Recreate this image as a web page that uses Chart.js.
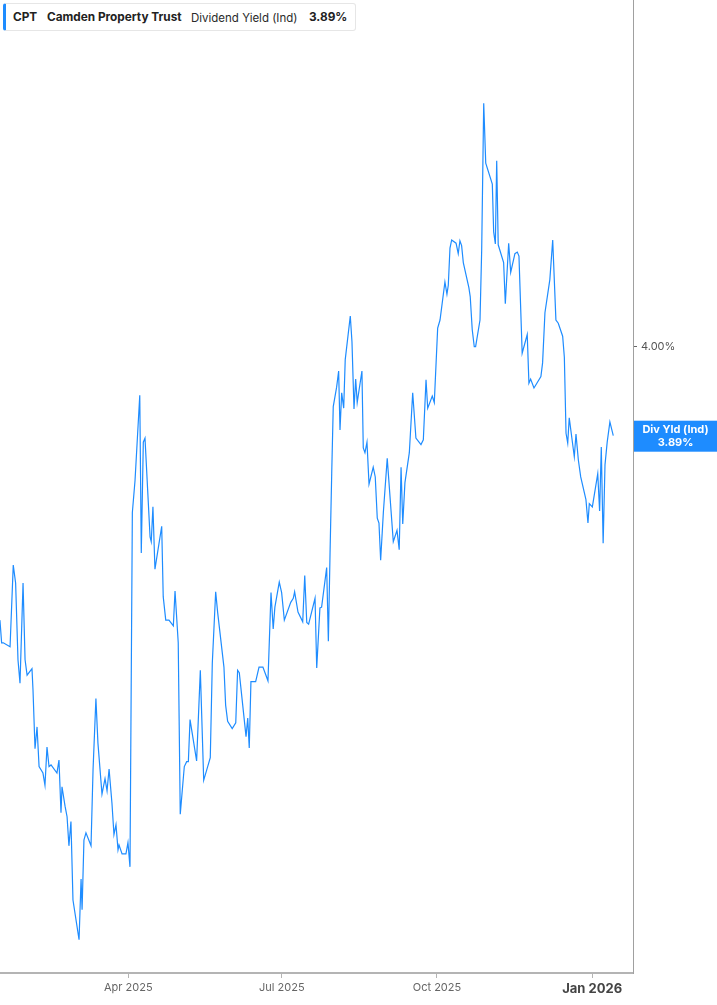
<!DOCTYPE html>
<html>
<head>
<meta charset="utf-8">
<script src="https://cdn.jsdelivr.net/npm/chart.js@4.4.1/dist/chart.umd.min.js"></script>
<style>
    html, body { margin: 0; padding: 0; background: #fff; }
    #wrap { position: relative; width: 717px; height: 1005px; }
    #legend {
        position: absolute; left: 3px; top: 3px; width: 353px; height: 28px;
        box-sizing: border-box; border: 1px solid #e6e6e6; border-left: 3px solid #1e8cff;
        border-radius: 3px; background: #fff; font-family: Inter, "Noto Sans", sans-serif;
        font-size: 11.8px; color: #222;
    }
    #legend span { position: absolute; top: 6px; white-space: nowrap; }
    .b { font-weight: 700; }
    .m { font-weight: 400; color: #2a2a2a; font-size: 11.5px; top: 6.5px !important; }
</style>
</head>
<body>
<div id="wrap">
    <canvas id="chart" width="717" height="1005"></canvas>
    <div id="legend">
        <span class="b" style="left:7px">CPT</span>
        <span class="b" style="left:41px">Camden Property Trust</span>
        <span class="m" style="left:185px">Dividend Yield (Ind)</span>
        <span class="b" id="legend-value" style="left:303px"></span>
    </div>
</div>
<script>
// days since 2025-01-01 for each vertex of the line
const days = [
    13.9, 14.9, 15.9, 19.9, 21.8, 23.2, 24.6, 25.8, 27.6, 28.8, 30.0, 32.9, 33.5, 34.7, 35.9, 37.1,
    39.4, 40.6, 41.8, 43.0, 44.2, 47.7, 48.9, 50.1, 50.7, 52.5, 53.7, 54.8, 56.0, 57.2, 60.8, 62.0,
    62.6, 63.7, 64.9, 67.9, 69.1, 70.8, 72.0, 74.4, 76.2, 77.4, 78.6, 80.3, 81.5, 82.7, 83.9, 84.5,
    86.3, 88.6, 89.8, 91.0, 92.4, 94.0, 96.8, 97.7, 98.9, 99.9, 102.9, 103.6, 104.6, 105.8, 109.8, 110.7,
    112.2, 114.1, 116.7, 117.7, 119.6, 120.8, 123.2, 124.6, 125.6, 126.6, 130.5, 132.7, 134.7, 138.6, 139.8, 141.8,
    143.0, 146.7, 147.7, 148.9, 151.6, 153.7, 154.8, 155.8, 159.8, 160.8, 161.7, 162.7, 165.5, 167.5, 169.8, 172.8,
    174.6, 175.9, 176.9, 179.5, 180.9, 182.5, 186.3, 187.8, 188.6, 190.6, 193.4, 194.6, 195.8, 196.9, 200.7, 201.7,
    203.6, 204.6, 207.6, 208.6, 209.6, 210.6, 211.5, 213.5, 214.7, 215.5, 216.5, 217.7, 218.6, 221.6, 222.6, 223.8,
    224.8, 225.7, 228.5, 229.3, 230.3, 231.5, 232.7, 235.2, 236.4, 237.6, 238.6, 239.6, 241.2, 243.5, 247.1, 249.3,
    250.6, 251.7, 252.7, 254.0, 256.6, 258.6, 260.5, 263.5, 264.9, 266.5, 267.5, 270.2, 271.4, 273.4, 274.8, 277.7,
    278.9, 279.7, 280.7, 281.7, 284.3, 285.6, 286.6, 287.6, 288.6, 291.9, 292.7, 293.9, 295.1, 295.9, 298.5, 299.5,
    300.7, 301.9, 305.8, 306.6, 307.6, 308.4, 309.3, 312.5, 313.5, 315.5, 316.7, 319.2, 320.6, 321.6, 323.5, 326.5,
    327.5, 328.5, 330.5, 334.6, 335.6, 337.0, 339.9, 341.6, 343.5, 344.9, 347.5, 348.5, 349.5, 350.5, 351.4, 354.4,
    355.4, 356.8, 358.2, 361.3, 362.5, 363.3, 365.1, 368.3, 369.4, 370.4, 371.5, 372.6, 373.9, 375.5, 377.5
];

// indicated dividend yield, percent
const yieldPct = [
    3.662, 3.634, 3.634, 3.629, 3.730, 3.708, 3.613, 3.584, 3.708, 3.613, 3.594, 3.602, 3.576, 3.503, 3.530, 3.481,
    3.473, 3.458, 3.505, 3.481, 3.483, 3.473, 3.489, 3.424, 3.456, 3.432, 3.419, 3.383, 3.413, 3.316, 3.267, 3.342,
    3.304, 3.390, 3.399, 3.383, 3.477, 3.565, 3.510, 3.447, 3.466, 3.451, 3.478, 3.436, 3.397, 3.409, 3.378, 3.384,
    3.373, 3.373, 3.387, 3.357, 3.795, 3.835, 3.940, 3.745, 3.882, 3.887, 3.765, 3.759, 3.802, 3.725, 3.778, 3.691,
    3.662, 3.662, 3.655, 3.698, 3.634, 3.422, 3.481, 3.487, 3.487, 3.539, 3.488, 3.600, 3.464, 3.492, 3.609, 3.697,
    3.671, 3.604, 3.557, 3.537, 3.528, 3.535, 3.600, 3.597, 3.518, 3.541, 3.504, 3.586, 3.586, 3.604, 3.604, 3.587,
    3.696, 3.651, 3.678, 3.709, 3.696, 3.662, 3.684, 3.689, 3.697, 3.672, 3.660, 3.717, 3.659, 3.657, 3.689, 3.603,
    3.677, 3.678, 3.727, 3.636, 3.745, 3.844, 3.926, 3.950, 3.970, 3.897, 3.943, 3.924, 3.984, 4.038, 4.006, 3.923,
    3.960, 3.931, 3.970, 3.875, 3.869, 3.882, 3.830, 3.851, 3.839, 3.788, 3.782, 3.736, 3.795, 3.862, 3.759, 3.773,
    3.749, 3.851, 3.781, 3.832, 3.869, 3.943, 3.887, 3.879, 3.885, 3.959, 3.924, 3.939, 3.931, 4.023, 4.033, 4.080,
    4.065, 4.076, 4.122, 4.132, 4.128, 4.115, 4.131, 4.125, 4.104, 4.073, 4.062, 4.021, 4.000, 4.000, 4.033, 4.120,
    4.301, 4.227, 4.201, 4.142, 4.127, 4.230, 4.126, 4.104, 4.053, 4.128, 4.092, 4.115, 4.117, 4.112, 3.992, 4.015,
    3.955, 3.960, 3.949, 3.963, 3.980, 4.042, 4.083, 4.132, 4.033, 4.029, 4.013, 3.987, 3.893, 3.881, 3.912, 3.864,
    3.892, 3.860, 3.839, 3.811, 3.782, 3.806, 3.802, 3.843, 3.797, 3.876, 3.757, 3.854, 3.882, 3.907, 3.890
];

// x tick positions (days since 2025-01-01) and their labels
const tickDays = [90, 181, 273, 365];
const tickLabels = ["Apr 2025", "Jul 2025", "Oct 2025", "Jan 2026"];
const yTicks = [4.0];

const lineColor = "#1e8cff";
const lastValue = yieldPct[yieldPct.length - 1];
document.getElementById("legend-value").textContent = lastValue.toFixed(2) + "%";

const points = days.map((d, i) => ({ x: d, y: yieldPct[i] }));

// blue badge with the last value on the right axis
const lastValueBadge = {
    id: "lastValueBadge",
    afterDraw(chart) {
        const ctx = chart.ctx;
        const yScale = chart.scales.y;
        const yPos = yScale.getPixelForValue(lastValue);
        const left = chart.chartArea.right + 1;
        const w = chart.width - left;
        ctx.save();
        ctx.fillStyle = lineColor;
        ctx.fillRect(left, yPos - 15, w, 31);
        ctx.fillStyle = "#fff";
        ctx.font = "bold 11px Inter, 'Noto Sans', sans-serif";
        ctx.textAlign = "center";
        ctx.textBaseline = "middle";
        ctx.fillText("Div Yld (Ind)", left + w / 2, yPos - 6);
        ctx.fillText(lastValue.toFixed(2) + "%", left + w / 2, yPos + 7);
        ctx.restore();
    }
};

new Chart(document.getElementById("chart"), {
    type: "line",
    data: {
        datasets: [{
            data: points,
            borderColor: lineColor,
            borderWidth: 1.2,
            pointRadius: 0,
            tension: 0,
            fill: false,
            clip: false
        }]
    },
    options: {
        responsive: false,
        animation: false,
        events: [],
        layout: { padding: 0 },
        plugins: { legend: { display: false }, tooltip: { enabled: false } },
        scales: {
            x: {
                type: "linear",
                min: 13.94,
                max: 389.2,
                afterFit(scale) {
                    scale.height = 32;
                    scale.paddingLeft = 0;
                    scale.paddingRight = 0;
                },
                afterBuildTicks(scale) { scale.ticks = tickDays.map(v => ({ value: v })); },
                grid: { drawOnChartArea: false, drawTicks: true, tickLength: 5, color: "#b4b4b4" },
                border: { display: true, color: "#b4b4b4", width: 2 },
                ticks: {
                    autoSkip: false,
                    maxRotation: 0,
                    padding: 3,
                    color: (c) => c.index === 3 ? "#444" : "#666",
                    font: (c) => c.index === 3
                        ? { family: "Inter, 'Noto Sans', sans-serif", size: 13, weight: "bold" }
                        : { family: "Inter, 'Noto Sans', sans-serif", size: 11 },
                    callback: (v) => tickLabels[tickDays.indexOf(v)] ?? ""
                }
            },
            y: {
                position: "right",
                min: 3.2258,
                max: 4.4286,
                afterFit(scale) {
                    scale.width = 84;
                    scale.paddingTop = 0;
                    scale.paddingBottom = 0;
                },
                afterBuildTicks(scale) { scale.ticks = yTicks.map(v => ({ value: v })); },
                grid: { drawOnChartArea: false, drawTicks: true, tickLength: 4, color: "#666" },
                border: { display: true, color: "#a0a0a0", width: 1 },
                ticks: {
                    padding: 4,
                    color: "#555",
                    font: { family: "Inter, 'Noto Sans', sans-serif", size: 11 },
                    callback: (v) => v.toFixed(2) + "%"
                }
            }
        }
    },
    plugins: [lastValueBadge]
});
</script>
</body>
</html>
